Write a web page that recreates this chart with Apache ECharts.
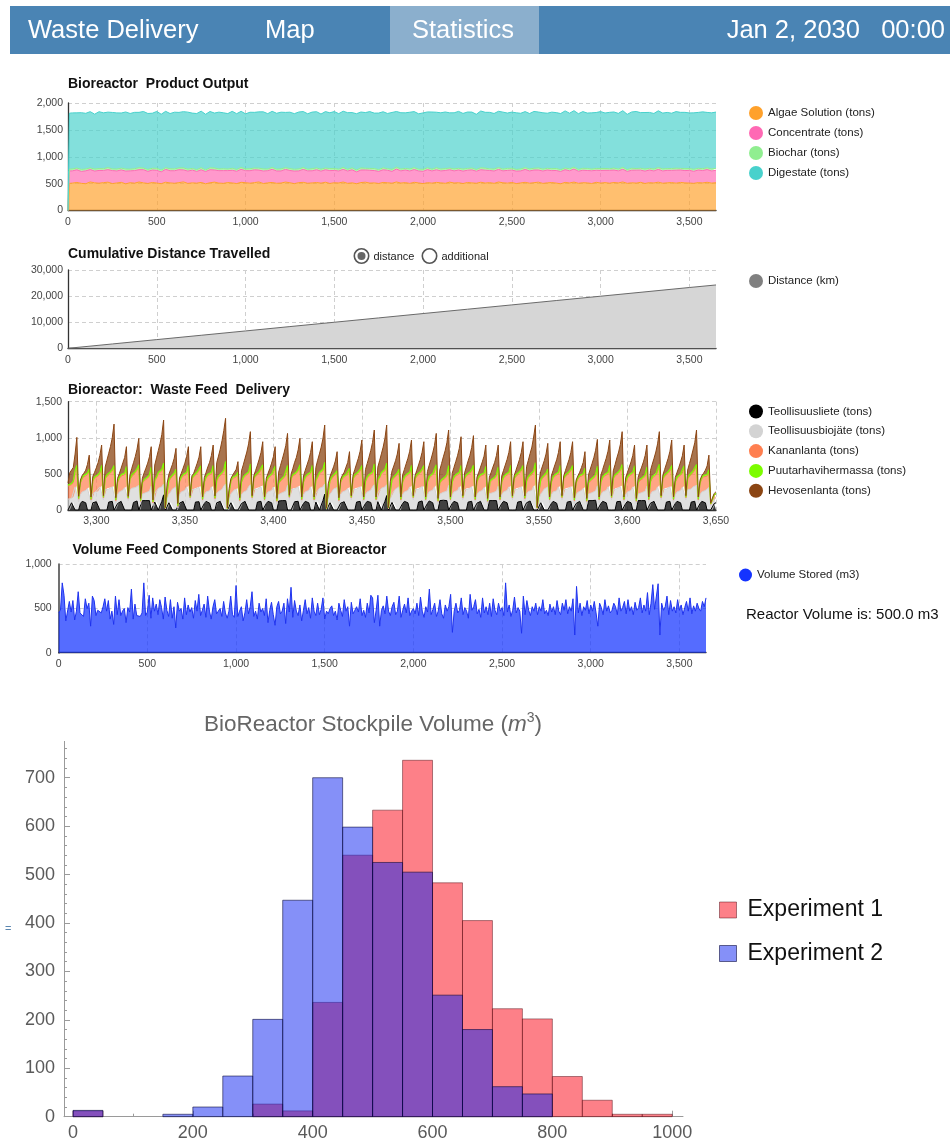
<!DOCTYPE html>
<html>
<head>
<meta charset="utf-8">
<title>Bioreactor Statistics</title>
<script src="https://cdn.jsdelivr.net/npm/echarts@6/dist/echarts.min.js"></script>
<style>
html,body{margin:0;padding:0;background:#ffffff;}
#chart{width:950px;height:1144px;}
</style>
</head>
<body>
<div id="chart"></div>
<script>
// ================= DATA =================
const headerTabs = ['Waste Delivery', 'Map', 'Statistics'];
const headerClock = 'Jan 2, 2030   00:00';

// ---- Chart 1: Bioreactor Product Output (days 0,3,8 then every 25 days to 3650)
const productLeadDays = [0, 3, 8];
const productStepStart = 25, productStep = 25, productLastDay = 3650;
const productNames = ['Algae Solution (tons)', 'Concentrate (tons)', 'Biochar (tons)', 'Digestate (tons)'];
const algaeSolution = [0,250,505,
510,522,505,498,531,515,508,519,527,501,512,524,496,517,509,530,514,503,521,511,
499,526,513,507,518,532,504,515,509,523,497,516,528,510,505,520,513,501,525,517,
508,519,531,502,514,522,506,511,529,516,500,518,524,507,513,521,509,526,503,517,
512,530,505,515,498,520,527,510,514,503,522,516,508,531,511,519,504,525,513,500,
518,509,523,515,506,528,512,517,502,521,514,507,526,511,519,505,530,516,509,522,
501,513,524,508,518,527,504,515,520,510,497,523,512,529,506,517,514,502,525,511,
519,508,521,513,531,505,516,510,524,503,518,512,527,507,515,520,509,522,514,511,
506,519,513,525,510,517];
const concentrate = [0,110,230,
228,235,222,240,231,219,237,226,233,242,224,230,238,221,234,229,245,225,232,236,
220,239,227,233,241,223,230,236,218,234,228,243,226,231,237,222,235,229,240,224,
232,238,221,233,227,244,230,225,236,228,234,219,241,231,226,237,223,232,239,228,
224,235,230,242,221,233,227,238,229,225,236,232,220,240,226,234,231,237,223,229,
243,227,234,222,238,230,225,236,231,228,241,224,233,239,226,230,235,221,237,229,
232,224,240,228,235,226,231,238,222,234,229,236,227,243,225,232,230,237,223,234,
228,239,231,225,236,222,233,240,227,230,235,224,238,229,232,226,241,231,228,236,
223,234,230,237,226,232];
const biochar = [0,20,35,
36,32,38,34,30,37,35,33,39,31,36,34,38,32,35,37,30,36,33,39,
34,31,37,35,33,38,36,32,34,39,31,35,37,33,36,30,38,34,35,32,
37,33,36,39,31,35,34,38,32,36,33,37,35,30,39,34,36,32,38,35,
33,37,31,36,34,39,32,35,38,33,36,31,37,34,35,30,38,36,33,37,
34,32,39,35,36,31,37,33,38,34,35,32,36,39,30,37,34,33,38,35,
31,36,34,37,33,39,35,32,36,38,34,31,37,35,33,36,39,32,34,37,
35,30,38,33,36,34,37,31,35,39,32,36,34,38,33,35,37,31,36,34,
38,33,35,32,37,36];
const digestate = [0,370,1040,
1042,1028,1055,1036,1047,1021,1058,1039,1031,1050,1044,1026,1061,1035,1048,1030,1053,1041,1024,1057,
1038,1049,1027,1054,1033,1046,1060,1029,1043,1052,1034,1048,1022,1056,1040,1031,1059,1037,1045,1025,
1051,1036,1047,1062,1030,1044,1039,1055,1028,1049,1035,1058,1041,1032,1053,1046,1027,1050,1038,1061,
1033,1045,1054,1029,1048,1040,1036,1057,1031,1052,1043,1026,1059,1037,1047,1034,1055,1042,1030,1050,
1039,1064,1032,1046,1053,1028,1044,1058,1035,1049,1041,1027,1056,1038,1051,1033,1047,1060,1029,1045,
1054,1036,1042,1031,1057,1040,1048,1025,1052,1039,1044,1063,1034,1050,1037,1055,1030,1046,1041,1058,
1032,1049,1043,1036,1054,1028,1047,1061,1035,1051,1040,1033,1056,1038,1045,1029,1053,1042,1048,1034,
1050,1039,1057,1031,1044,1046];

// ---- Chart 2: Cumulative distance
const distanceDays = [0,250,500,750,1000,1250,1500,1750,2000,2250,2500,2750,3000,3250,3500,3650];
const distanceKm = [0,1660,3330,4990,6650,8320,9980,11640,13310,14970,16630,18300,19960,21620,23290,24270];

// ---- Chart 3: Waste feed delivery, daily from 3284 to 3650
const feedFirstDay = 3284, feedLastDay = 3650;
const feedNames = ['Teollisuusliete (tons)', 'Teollisuusbiojäte (tons)', 'Kananlanta (tons)', 'Puutarhavihermassa (tons)', 'Hevosenlanta (tons)'];
const teollisuusliete = [
0,0,100,110,0,0,
0,90,120,120,100,0,0,
0,100,120,115,90,0,0,
0,0,0,110,120,120,0,
0,90,115,120,100,0,0,
0,0,0,105,120,125,0,
0,130,135,130,130,130,0,
0,110,120,0,0,120,210,
0,0,100,110,0,0,0,
0,95,120,120,100,0,0,
0,0,0,110,120,115,0,
0,90,120,125,95,0,0,
0,100,120,120,110,0,0,
0,0,100,115,0,0,0,
0,90,115,120,100,0,0,
0,0,0,110,125,120,0,
0,90,120,120,100,0,0,
0,125,130,130,135,130,0,
0,0,0,115,120,120,0,
0,90,120,120,100,0,0,
0,110,125,0,0,130,220,
0,0,100,110,0,0,0,
0,95,120,115,100,0,0,
0,0,0,110,120,120,0,
0,90,120,120,105,0,0,
0,115,120,0,0,120,200,
0,0,105,110,0,0,0,
0,90,120,120,100,0,0,
0,0,0,110,120,125,0,
0,90,125,120,100,0,0,
0,130,130,135,130,130,0,
0,90,120,120,100,0,0,
0,0,0,110,115,120,0,
0,95,120,120,100,0,0,
0,130,130,130,125,130,0,
0,90,120,120,100,0,0,
0,0,0,110,120,120,0,
0,100,120,125,100,0,0,
0,0,100,110,0,0,0,
0,90,120,120,95,0,0,
0,0,0,110,120,120,0,
0,90,115,120,100,0,0,
0,130,130,130,130,135,0,
0,90,120,120,100,0,0,
0,0,0,115,120,120,0,
0,90,120,120,100,0,0,
0,130,135,130,130,130,0,
0,95,120,120,100,0,0,
0,0,0,110,120,120,0,
0,90,120,115,100,0,0,
0,0,0,110,125,120,0,
0,90,120,120,100,0,0,
0,0,90,100];
const teollisuusbiojate = [
150,150,60,70,320,340,
110,120,130,150,170,300,320,
100,125,130,145,170,320,340,
140,280,300,180,190,200,330,
90,120,135,150,175,310,330,
130,270,300,185,190,205,340,
80,90,100,110,120,130,330,
60,120,130,300,310,200,150,
15,150,120,140,290,300,320,
30,120,130,150,170,320,340,
140,280,290,180,190,200,330,
100,120,130,150,170,320,340,
110,125,135,150,175,330,360,
10,140,120,140,280,290,300,
90,120,130,150,170,320,350,
140,285,300,180,190,200,340,
100,120,130,145,170,320,330,
80,90,100,110,120,130,340,
145,280,300,180,185,200,340,
100,120,130,150,170,320,340,
100,120,130,300,310,190,140,
10,150,120,140,290,300,310,
90,120,130,150,170,300,320,
140,280,300,180,190,200,330,
100,125,130,150,170,320,350,
100,120,130,300,310,200,150,
15,150,120,140,290,300,320,
100,120,130,150,170,320,340,
140,280,300,180,190,200,330,
100,120,130,150,175,320,345,
80,90,100,110,120,130,340,
100,120,130,150,170,320,340,
140,280,300,180,190,200,335,
100,120,130,150,170,310,330,
80,95,100,110,120,130,330,
100,120,130,150,170,320,340,
140,280,300,180,190,200,330,
110,120,135,150,170,330,355,
15,150,120,140,290,300,320,
100,120,130,150,170,320,340,
140,280,300,180,190,200,330,
90,120,130,150,170,300,320,
80,90,100,110,120,130,335,
100,120,130,150,170,320,340,
140,280,300,180,190,200,340,
100,120,130,150,170,320,335,
80,90,100,110,120,130,330,
100,120,135,150,170,320,345,
140,280,300,180,190,200,330,
100,120,130,150,170,315,335,
140,280,300,180,195,200,340,
100,120,130,150,170,290,310,
60,100,60,70];
const kananlanta = [
180,200,190,200,200,250,
40,160,180,190,200,190,220,
40,170,190,200,210,180,250,
30,150,170,190,200,220,260,
40,170,185,200,210,180,245,
30,150,170,190,205,220,260,
40,150,170,180,190,210,240,
40,170,190,200,210,220,260,
8,90,180,190,170,190,220,
20,170,190,200,210,180,250,
30,150,170,190,200,220,255,
40,170,190,200,210,180,250,
45,175,195,205,215,200,280,
5,90,170,180,160,170,200,
40,170,190,200,210,185,260,
30,150,170,190,200,220,260,
40,170,190,200,210,180,250,
40,150,170,180,190,210,250,
30,150,170,190,200,220,260,
40,170,190,200,210,180,250,
40,170,190,200,210,220,270,
8,90,175,190,170,190,210,
40,165,185,195,205,180,230,
30,150,170,190,200,220,260,
40,170,190,200,210,185,260,
40,170,190,200,210,220,270,
8,90,180,190,170,190,220,
40,170,190,200,210,180,250,
30,150,170,190,200,220,260,
40,170,190,200,210,185,255,
40,150,170,180,190,210,250,
40,170,190,200,210,180,250,
30,150,170,190,200,220,260,
40,170,190,200,210,180,245,
40,150,170,180,190,210,240,
40,170,190,200,210,180,250,
30,150,170,190,200,220,260,
45,170,190,200,210,190,270,
8,90,180,190,170,190,220,
40,170,190,200,210,180,250,
30,150,170,190,200,220,260,
40,160,180,190,200,180,230,
40,150,170,180,190,210,245,
40,170,190,200,210,180,250,
30,150,170,190,200,220,265,
40,170,190,200,210,180,250,
40,150,170,180,190,210,240,
40,170,190,200,210,185,260,
30,150,170,190,200,220,260,
40,170,190,200,210,180,250,
30,150,170,190,200,220,265,
40,160,180,190,200,180,220,
20,40,50,50];
const puutarhavihermassa = [
15,15,18,20,25,28,
10,15,18,20,20,22,28,
10,15,18,20,20,22,28,
8,15,18,20,20,22,26,
10,15,18,20,20,22,28,
8,15,18,20,20,22,26,
10,15,18,20,20,22,26,
10,15,18,20,22,24,30,
4,12,18,20,20,22,26,
10,15,18,20,20,22,28,
8,15,18,20,20,22,26,
10,15,18,20,20,22,28,
10,15,18,20,22,25,32,
4,8,14,18,20,20,24,
10,15,18,20,20,22,28,
8,15,18,20,20,22,26,
10,15,18,20,20,22,28,
10,15,18,20,20,22,26,
8,15,18,20,20,22,26,
10,15,18,20,20,22,28,
10,15,18,20,22,24,30,
4,12,18,20,20,22,26,
10,15,18,20,20,22,28,
8,15,18,20,20,22,26,
10,15,18,20,20,22,28,
10,15,18,20,22,24,30,
4,12,18,20,20,22,26,
10,15,18,20,20,22,28,
8,15,18,20,20,22,26,
10,15,18,20,20,22,28,
10,15,18,20,20,22,26,
10,15,18,20,20,22,28,
8,15,18,20,20,22,26,
10,15,18,20,20,22,28,
10,15,18,20,20,22,26,
10,15,18,20,20,22,28,
8,15,18,20,20,22,26,
10,15,18,20,20,24,30,
4,12,18,20,20,22,26,
10,15,18,20,20,22,28,
8,15,18,20,20,22,26,
10,15,18,20,20,22,28,
10,15,18,20,20,22,26,
10,15,18,20,20,22,28,
8,15,18,20,20,22,26,
10,15,18,20,20,22,28,
10,15,18,20,20,22,26,
10,15,18,20,20,22,28,
8,15,18,20,20,22,26,
10,15,18,20,20,22,28,
8,15,18,20,20,22,26,
10,15,18,20,20,22,28,
6,8,10,12];
const hevosenlanta = [
30,150,170,190,230,388,
30,30,30,30,62,120,192,
30,55,64,104,166,234,282,
20,150,202,285,351,438,574,
30,44,51,89,149,215,274,
20,51,87,155,204,271,366,
30,54,91,139,189,245,281,
30,208,265,302,380,483,596,
10,120,77,104,152,205,288,
30,44,51,89,149,215,259,
20,30,30,79,119,175,266,
30,55,64,104,166,234,282,
30,240,279,348,440,545,598,
10,60,30,30,36,83,146,
30,148,171,226,303,389,447,
20,30,61,124,170,233,320,
30,44,51,89,149,215,269,
30,146,197,260,325,399,445,
20,51,87,155,204,271,366,
30,78,91,134,200,273,328,
30,174,225,257,329,425,517,
10,110,51,73,118,167,262,
30,30,30,43,98,157,230,
20,40,74,140,187,252,353,
30,159,185,241,320,409,470,
30,174,225,257,329,425,527,
10,140,117,149,203,263,357,
30,90,104,150,217,292,351,
20,30,61,124,170,233,330,
30,136,157,210,285,369,433,
30,169,225,291,360,439,492,
30,113,131,180,251,331,397,
20,70,109,180,232,303,409,
30,55,64,104,166,234,297,
30,65,104,154,206,264,304,
30,78,91,134,200,273,328,
20,30,61,124,170,233,330,
30,194,225,287,371,467,522,
10,140,117,149,203,263,357,
30,78,91,134,200,273,328,
20,30,61,124,170,233,330,
30,30,30,43,98,157,230,
30,104,149,205,264,330,372,
30,90,104,150,217,292,351,
20,98,141,216,273,349,454,
30,55,64,104,166,234,287,
30,65,104,154,206,264,304,
30,148,171,226,303,389,452,
20,40,74,140,187,252,353,
30,55,64,104,166,234,287,
20,109,155,231,290,369,477,
30,30,30,30,62,120,202,
10,20,20,20];

// ---- Chart 4: Volume stored, every 10 days from 0 to 3650
const volumeStepDays = 10;
const volumeStored = [
450,480,790,650,360,380,580,460,590,370,470,690,450,430,410,610,500,560,300,640,
590,420,480,500,450,520,610,470,590,380,470,320,640,430,600,420,470,500,340,510,
460,720,380,550,420,440,410,450,790,420,460,650,390,620,470,550,430,600,510,380,
630,480,410,600,390,520,280,570,470,500,380,620,430,540,460,510,390,590,470,660,
420,480,550,400,640,470,380,520,600,440,470,500,410,580,450,390,470,640,430,400,
760,410,470,520,360,450,600,440,520,690,410,470,380,560,460,500,420,610,340,480,
570,430,310,520,580,440,470,560,330,610,460,740,400,590,470,420,540,360,480,600,
440,510,390,620,470,420,560,430,490,620,380,470,440,500,530,420,470,370,560,480,
410,600,470,520,300,570,440,480,520,460,610,420,480,400,560,450,650,620,340,480,
650,300,480,530,440,640,470,420,520,570,430,470,640,400,480,550,450,620,420,470,
500,440,560,420,630,470,400,520,460,720,430,490,560,410,470,600,440,390,540,470,
520,660,230,470,560,450,480,620,430,510,470,390,660,480,520,600,440,490,400,620,
450,520,430,560,410,610,480,430,560,470,510,420,790,460,540,410,480,630,450,510,
470,220,640,430,590,480,420,520,470,560,430,520,470,600,440,480,420,550,460,520,
430,590,470,430,560,480,600,440,520,470,610,200,750,450,560,420,520,480,590,440,
540,470,580,450,300,560,510,430,600,470,530,450,480,560,520,430,620,470,510,580,
440,600,470,520,430,570,480,510,620,450,540,470,680,430,560,770,490,510,780,200,
560,480,520,640,430,590,470,520,450,600,480,540,430,510,580,470,620,440,530,470,
560,500,470,580,520,620];

// ---- Chart 5: Histogram, bins of 50 m3 starting at 0
const binWidth = 50;
const binStarts = [0,50,100,150,200,250,300,350,400,450,500,550,600,650,700,750,800,850,900,950];
const experiment1Counts = [12,0,0,0,0,0,26,12,236,540,633,736,483,405,223,202,83,34,5,5];
const experiment2Counts = [13,0,0,5,20,84,201,447,700,598,525,505,251,180,62,47,0,0,0,0];
const histXLabels = [0,200,400,600,800,1000];
const histXMinor = [100,300,500,700,900];
const histYLabels = [0,100,200,300,400,500,600,700];
const histYMinor = [20,40,60,80,120,140,160,180,220,240,260,280,320,340,360,380,420,440,460,480,520,540,560,580,620,640,660,680,720,740,760];
const timeTicks = [0,500,1000,1500,2000,2500,3000,3500];
const feedTicks = [3300,3350,3400,3450,3500,3550,3600,3650];

// ================= BUILD =================
const FONT = "'Liberation Sans', Arial, Helvetica, sans-serif";
const productDays = productLeadDays.slice();
for (let d = productStepStart; d <= productLastDay; d += productStep) productDays.push(d);
const feedDays = [];
for (let d = feedFirstDay; d <= feedLastDay; d++) feedDays.push(d);
const volumeDays = volumeStored.map((_, i) => i * volumeStepDays);
const pairs = (xs, ys) => xs.map((x, i) => [x, ys[i] === undefined ? 0 : ys[i]]);
// value-first pairs so that stacking applies to the value (y) dimension, aligned by index
const stackPairs = (xs, ys) => xs.map((x, i) => [ys[i] === undefined ? 0 : ys[i], x]);
const thousands = v => Math.round(v).toLocaleString('en-US');

const gridLine = {show: true, lineStyle: {color: '#cfcfcf', type: [4, 3], width: 1}};
function gX(gridIndex, min, max, ticks, extra) {
  return Object.assign({
    type: 'value', gridIndex, min, max,
    axisLine: {show: true, onZero: false, lineStyle: {color: '#333', width: 1.3}},
    axisTick: {show: false, customValues: ticks},
    axisLabel: {customValues: ticks, fontSize: 10.5, color: '#444', margin: 6, formatter: thousands, fontFamily: FONT},
    splitLine: gridLine
  }, extra || {});
}
function gY(gridIndex, max, interval, margin, lineStyle) {
  return {
    type: 'value', gridIndex, min: 0, max, interval,
    axisLine: {show: true, onZero: false, lineStyle: lineStyle || {color: '#333', width: 1.3}},
    axisTick: {show: false},
    axisLabel: {fontSize: 10.5, color: '#444', margin, formatter: thousands, fontFamily: FONT},
    splitLine: gridLine
  };
}
function areaSeries(name, xi, stack, data, color, opacity, lw) {
  return {
    name, type: 'line', xAxisIndex: xi, yAxisIndex: xi, stack,
    data, encode: {x: 1, y: 0},
    showSymbol: false, symbol: 'none', silent: true,
    itemStyle: {color},
    lineStyle: {color, width: lw || 1},
    areaStyle: {color, opacity},
    emphasis: {disabled: true}
  };
}
function histRender(fill, stroke) {
  return function (params, api) {
    const c = api.value(2);
    if (!c) return null;
    const p0 = api.coord([api.value(0), c]);
    const p1 = api.coord([api.value(1), 0]);
    return {type: 'rect', shape: {x: p0[0], y: p0[1], width: p1[0] - p0[0], height: p1[1] - p0[1]},
      style: {fill, stroke, lineWidth: 1}};
  };
}

const productColors = ['#ffa12b', '#ff69b4', '#90ee90', '#48d1cc'];
const productValues = [algaeSolution, concentrate, biochar, digestate];
const feedColors = ['#000000', '#d3d3d3', '#ff7f50', '#7cfc00', '#8b4513'];
const feedOpac = [0.75, 0.7, 0.7, 0.7, 0.75];
const feedValues = [teollisuusliete, teollisuusbiojate, kananlanta, puutarhavihermassa, hevosenlanta];
const red = 'rgba(251,1,17,0.5)', blue = 'rgba(11,33,241,0.5)';

const series = [];
productNames.forEach((n, i) => series.push(areaSeries(n, 0, 'product', stackPairs(productDays, productValues[i]), productColors[i], 0.68, 1)));
series.push({name: 'Distance (km)', type: 'line', xAxisIndex: 1, yAxisIndex: 1, data: pairs(distanceDays, distanceKm),
  showSymbol: false, symbol: 'none', silent: true, itemStyle: {color: '#808080'},
  lineStyle: {color: '#6a6a6a', width: 1}, areaStyle: {color: '#d6d6d6', opacity: 1}});
feedNames.forEach((n, i) => series.push(areaSeries(n, 2, 'feed', stackPairs(feedDays, feedValues[i]), feedColors[i], feedOpac[i], i === 3 ? 1.2 : 1)));
series.push({name: 'Volume Stored (m3)', type: 'line', xAxisIndex: 3, yAxisIndex: 3, data: pairs(volumeDays, volumeStored),
  showSymbol: false, symbol: 'none', silent: true, itemStyle: {color: '#1433ff'},
  lineStyle: {color: '#1f33ee', width: 1}, areaStyle: {color: '#1433ff', opacity: 0.72}});
series.push({name: 'Experiment 1', type: 'custom', xAxisIndex: 4, yAxisIndex: 4, silent: true,
  renderItem: histRender(red, 'rgba(70,0,10,0.45)'), itemStyle: {color: red},
  encode: {x: [0, 1], y: 2}, data: binStarts.map((s, i) => [s, s + binWidth, experiment1Counts[i]])});
series.push({name: 'Experiment 2', type: 'custom', xAxisIndex: 4, yAxisIndex: 4, silent: true,
  renderItem: histRender(blue, 'rgba(0,0,50,0.55)'), itemStyle: {color: blue},
  encode: {x: [0, 1], y: 2}, data: binStarts.map((s, i) => [s, s + binWidth, experiment2Counts[i]])});

const mAxisLine = {show: true, onZero: false, lineStyle: {color: '#9a9a9a', width: 1}};
const mLabel = {fontSize: 18, color: '#5a5a5a', fontFamily: FONT, formatter: v => String(v)};

const legendBase = {orient: 'vertical', padding: 0, icon: 'circle', itemWidth: 14, itemHeight: 14,
  selectedMode: false, textStyle: {fontSize: 11.5, color: '#222', fontFamily: FONT}};

function txt(text, x, y, size, opts) {
  return {type: 'text', z: 10, style: Object.assign({text, x, y, fontSize: size, fontFamily: FONT, fill: '#111',
    align: 'left', verticalAlign: 'middle', textAlign: 'left', textVerticalAlign: 'middle'}, opts || {})};
}

const graphics = [
  {type: 'rect', shape: {x: 10, y: 6, width: 940, height: 48}, style: {fill: '#4a84b4'}},
  {type: 'rect', shape: {x: 390, y: 6, width: 149, height: 48}, style: {fill: '#8bafcd'}},
  txt(headerTabs[0], 28, 31, 25.5, {fill: '#ffffff'}),
  txt(headerTabs[1], 265, 31, 25.5, {fill: '#ffffff'}),
  txt(headerTabs[2], 412, 31, 25.5, {fill: '#ffffff'}),
  txt(headerClock, 945, 31, 25.5, {fill: '#ffffff', align: 'right', textAlign: 'right'}),
  txt('Bioreactor  Product Output', 68, 84, 14, {fontWeight: 'bold'}),
  txt('Cumulative Distance Travelled', 68, 254.5, 14, {fontWeight: 'bold'}),
  txt('Bioreactor:  Waste Feed  Delivery', 68, 390, 14, {fontWeight: 'bold'}),
  txt('Volume Feed Components Stored at Bioreactor', 72.5, 550.5, 14, {fontWeight: 'bold'}),
  {type: 'circle', z: 10, shape: {cx: 361.5, cy: 256, r: 7.2}, style: {fill: '#fff', stroke: '#555', lineWidth: 1.6}},
  {type: 'circle', z: 11, shape: {cx: 361.5, cy: 256, r: 4}, style: {fill: '#666'}},
  txt('distance', 373.5, 256.5, 11, {fill: '#222'}),
  {type: 'circle', z: 10, shape: {cx: 429.5, cy: 256, r: 7.2}, style: {fill: '#fff', stroke: '#555', lineWidth: 1.6}},
  txt('additional', 441.5, 256.5, 11, {fill: '#222'}),
  txt('Reactor Volume is: 500.0 m3', 746, 614.5, 15, {fill: '#111'}),
  {type: 'text', z: 10, style: {text: '{t|BioReactor Stockpile Volume (}{i|m}{s|3}{t|)}', x: 373, y: 725,
    align: 'center', verticalAlign: 'middle', textAlign: 'center', textVerticalAlign: 'middle',
    rich: {t: {fontSize: 22.5, fill: '#666', color: '#666', fontFamily: FONT, lineHeight: 28},
      i: {fontSize: 22.5, fill: '#666', color: '#666', fontStyle: 'italic', fontFamily: FONT, lineHeight: 28},
      s: {fontSize: 14, fill: '#666', color: '#666', fontFamily: FONT, lineHeight: 14, verticalAlign: 'top'}}}},
  txt('=', 5, 929, 11, {fill: '#5b86b0'})
];

const option = {
  animation: false,
  textStyle: {fontFamily: FONT},
  grid: [
    {left: 68, top: 103, width: 648, height: 107.5},
    {left: 68, top: 270, width: 648, height: 78.3},
    {left: 68, top: 401.7, width: 648, height: 108.3},
    {left: 58.7, top: 564.3, width: 647.3, height: 88.4},
    {left: 64, top: 741.4, width: 619, height: 375.3}
  ],
  xAxis: [
    gX(0, 0, 3650, timeTicks, {interval: 500}),
    gX(1, 0, 3650, timeTicks, {interval: 500}),
    gX(2, feedFirstDay, feedLastDay, feedTicks, {splitNumber: 7}),
    gX(3, 0, 3650, timeTicks, {interval: 500}),
    {type: 'value', gridIndex: 4, min: -15, max: 1018, position: 'bottom',
      axisLine: mAxisLine,
      axisTick: {show: true, inside: true, length: 6, customValues: histXLabels, lineStyle: {color: '#9a9a9a'}},
      axisLabel: Object.assign({customValues: histXLabels, margin: 7}, mLabel),
      splitLine: {show: false}},
    {type: 'value', gridIndex: 4, min: -15, max: 1018, position: 'bottom',
      axisLine: {show: false, onZero: false},
      axisTick: {show: true, inside: true, length: 3, customValues: histXMinor, lineStyle: {color: '#9a9a9a'}},
      axisLabel: {show: false}, splitLine: {show: false}}
  ],
  yAxis: [
    gY(0, 2000, 500, 5),
    gY(1, 30000, 10000, 5),
    gY(2, 1500, 500, 6),
    gY(3, 1000, 500, 7, {color: '#707070', width: 2}),
    {type: 'value', gridIndex: 4, min: 0, max: 775, position: 'left',
      axisLine: mAxisLine,
      axisTick: {show: true, inside: true, length: 6, customValues: histYLabels, lineStyle: {color: '#9a9a9a'}},
      axisLabel: Object.assign({customValues: histYLabels, margin: 9}, mLabel),
      splitLine: {show: false}},
    {type: 'value', gridIndex: 4, min: 0, max: 775, position: 'left',
      axisLine: {show: false, onZero: false},
      axisTick: {show: true, inside: true, length: 3, customValues: histYMinor, lineStyle: {color: '#9a9a9a'}},
      axisLabel: {show: false}, splitLine: {show: false}}
  ],
  legend: [
    Object.assign({}, legendBase, {left: 749, top: 106, itemGap: 6, data: productNames}),
    Object.assign({}, legendBase, {left: 749, top: 274, data: ['Distance (km)']}),
    Object.assign({}, legendBase, {left: 749, top: 404.5, itemGap: 5.8, data: feedNames}),
    Object.assign({}, legendBase, {left: 739, top: 568.5, itemWidth: 13, itemHeight: 13, data: ['Volume Stored (m3)']}),
    {orient: 'vertical', left: 719, top: 898.5, padding: 0, icon: 'rect', itemWidth: 17, itemHeight: 16, itemGap: 20.5,
      selectedMode: false, textStyle: {fontSize: 23, color: '#111', fontFamily: FONT, padding: [0, 0, 0, 6]},
      data: [
        {name: 'Experiment 1', itemStyle: {color: red, borderColor: 'rgba(70,0,10,0.45)', borderWidth: 1}},
        {name: 'Experiment 2', itemStyle: {color: blue, borderColor: 'rgba(0,0,50,0.55)', borderWidth: 1}}
      ]}
  ],
  graphic: {elements: graphics},
  series
};

const chart = echarts.init(document.getElementById('chart'), null, {renderer: 'canvas'});
chart.setOption(option);
</script>
</body>
</html>
